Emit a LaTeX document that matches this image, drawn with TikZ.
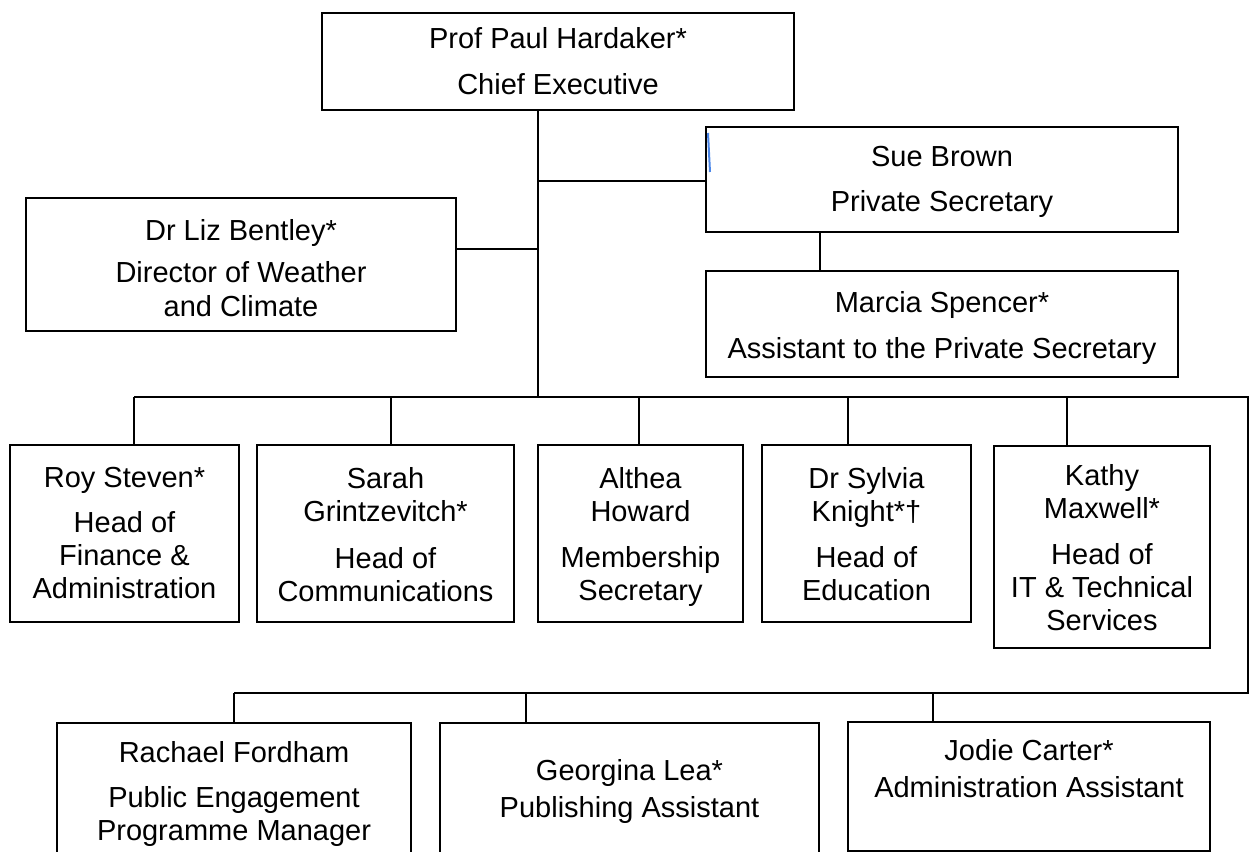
\documentclass[tikz,border=0pt]{standalone}
\usepackage{fontspec}
\setmainfont{Liberation Sans}
\usetikzlibrary{positioning}
\definecolor{cursorblue}{RGB}{74,134,232}
\tikzset{
	box/.style={draw,line width=1pt,inner sep=0pt},
	txt/.style={font=\fontsize{14.5}{16.5}\selectfont,align=center,inner sep=0pt},
	link/.style={line width=0.9pt}
}
\begin{document}
\begin{tikzpicture}[x=0.5pt,y=-0.5pt]
		\clip (0,0) rectangle (1250,852);
		
		\node[box,minimum width=236pt,minimum height=48.5pt] (ceo) at (558,61.5) {};
		\node[box,minimum width=236pt,minimum height=52.5pt] (sue) at (942,179.5) {};
		\node[box,minimum width=215pt,minimum height=66.5pt] (liz) at (241,264.5) {};
		\node[box,minimum width=236pt,minimum height=53pt] (marcia) at (942,324) {};
		\node[box,minimum width=114.5pt,minimum height=88.5pt] (roy) at (124.5,533.5) {};
		\node[box,minimum width=128.5pt,minimum height=88.5pt] (sarah) at (385.5,533.5) {};
		\node[box,minimum width=102.5pt,minimum height=88.5pt] (althea) at (640.5,533.5) {};
		\node[box,minimum width=104.5pt,minimum height=88.5pt] (sylvia) at (866.5,533.5) {};
		\node[box,minimum width=108pt,minimum height=101pt] (kathy) at (1102,547) {};
		\node[box,minimum width=177pt,minimum height=88.5pt] (rachael) at (234,811.5) {};
		\node[box,minimum width=189.5pt,minimum height=88.5pt] (georgina) at (629.5,811.5) {};
		\node[box,minimum width=181pt,minimum height=64.5pt] (jodie) at (1029,786.5) {};
		
		\node[txt,below=7.5pt of ceo.north] (ceo-t) {Prof Paul Hardaker*\\[6.5pt]Chief Executive};
		\node[txt,below=10pt of sue.north] (sue-t) {Sue Brown\\[6pt]Private Secretary};
		\node[txt,below=10.5pt of marcia.north] (marcia-t) {Marcia Spencer*\\[6.5pt]Assistant to the Private Secretary};
		\node[txt,below=11pt of liz.north] (liz-t) {Dr Liz Bentley*\\[4.5pt]Director of Weather\\[0.5pt]and Climate};
		\node[txt,below=11.5pt of roy.north] (roy-t) {Roy Steven*\\[6pt]Head of\\Finance \&\\Administration};
		\node[txt,below=11.5pt of sarah.north] (sarah-t) {Sarah\\Grintzevitch*\\[7pt]Head of\\Communications};
		\node[txt,below=11.5pt of althea.north] (althea-t) {Althea\\Howard\\[6.5pt]Membership\\Secretary};
		\node[txt,below=11.5pt of sylvia.north] (sylvia-t) {Dr Sylvia\\Knight*†\\[6.5pt]Head of\\Education};
		\node[txt,below=9.5pt of kathy.north] (kathy-t) {Kathy\\Maxwell*\\[6.5pt]Head of\\IT \& Technical\\Services};
		\node[txt,below=9.5pt of rachael.north] (rachael-t) {Rachael Fordham\\[6pt]Public Engagement\\Programme Manager};
		\node[txt,below=18.5pt of georgina.north] (georgina-t) {Georgina Lea*\\[2pt]Publishing Assistant};
		\node[txt,below=9pt of jodie.north] (jodie-t) {Jodie Carter*\\[2pt]Administration Assistant};
		
		\coordinate (trunk) at (538,397);
		\coordinate (busr) at (1248,397);
		\coordinate (busb) at (1248,693);
		\draw[link] (ceo.south -| trunk) -- (trunk);
		\draw[link] ([yshift=-0.75pt]trunk |- sue.west) -- ([yshift=-0.75pt]sue.west);
		\draw[link] ([yshift=7.75pt]liz.east) -- ([yshift=7.75pt]liz.east -| trunk);
		\draw[link] ([xshift=-61pt]sue.south) -- ([xshift=-61pt]marcia.north);
		
		\foreach \n/\x in {roy/134,sarah/391,althea/639,sylvia/848,kathy/1067}{
			\coordinate (d-\n) at (\x,397);
			\draw[link] (d-\n) -- (d-\n |- \n.north);
		}
		\foreach \n/\x in {rachael/234,georgina/526,jodie/933}{
			\coordinate (e-\n) at (\x,693);
			\draw[link] (e-\n) -- (e-\n |- \n.north);
		}
		\draw[link] (d-roy) -- (busr) -- (busb) -- (e-rachael);
		
		\draw[cursorblue,line width=1pt] (708,133) -- (710,172);
		
		\end{tikzpicture}
\end{document}
